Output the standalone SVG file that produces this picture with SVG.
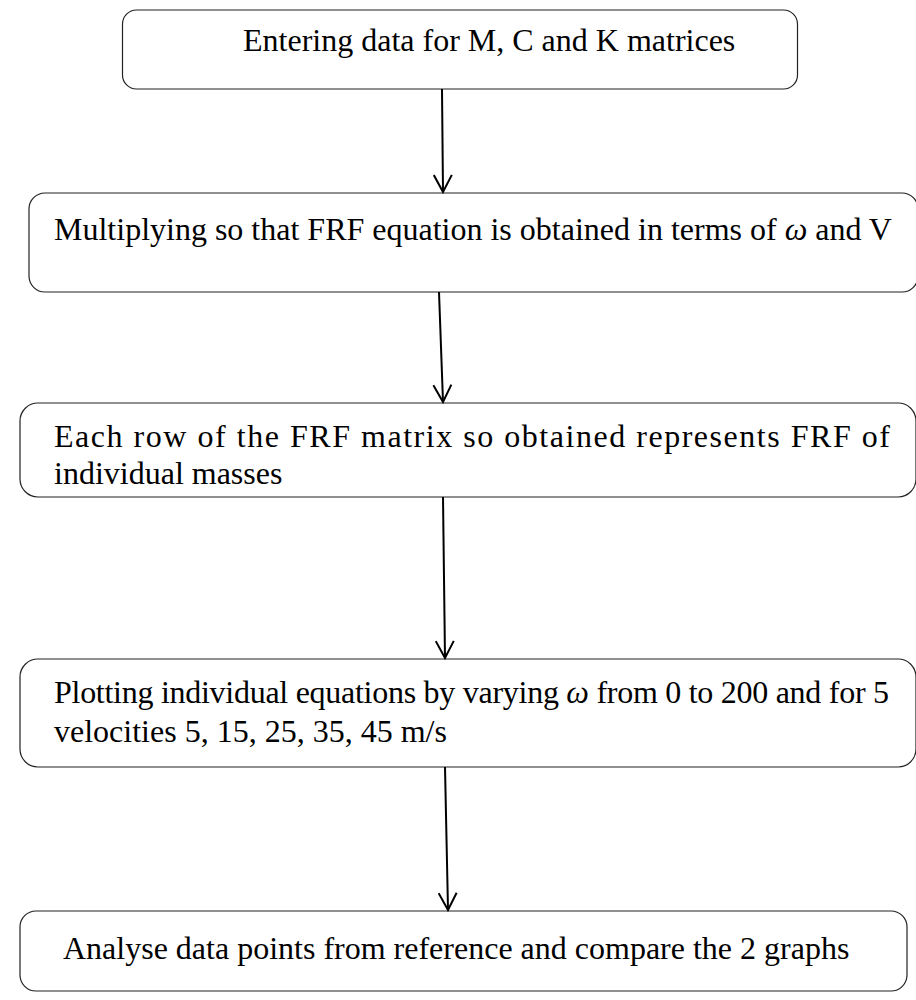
<svg xmlns="http://www.w3.org/2000/svg" width="916" height="1000" viewBox="0 0 916 1000">
<defs>
<style>
.box{fill:#fff;stroke:#222;stroke-width:1.2}
.t{font-family:"Liberation Serif","Times New Roman",serif;font-size:32px;fill:#000}
.w{font-style:italic}
.c{stroke:#000;stroke-width:2;fill:none}
</style>
<marker id="ah" viewBox="0 0 20 20" refX="18" refY="10" markerWidth="20" markerHeight="20" markerUnits="userSpaceOnUse" orient="auto">
<path d="M1,1 L18,10 L1,19" fill="none" stroke="#000" stroke-width="2"/>
</marker>
</defs>
<rect width="916" height="1000" fill="#fff"/>
<g id="n1">
<rect class="box" x="122.5" y="10" width="675" height="79" rx="14"/>
<text class="t" x="243" y="51">Entering data for M, C and K matrices</text>
</g>
<g id="n2">
<rect class="box" x="29" y="193" width="889" height="99" rx="16"/>
<text class="t" x="54" y="240">Multiplying so that FRF equation is obtained in terms of <tspan class="w">ω</tspan> and V</text>
</g>
<g id="n3">
<rect class="box" x="20" y="403" width="896" height="94" rx="18"/>
<text class="t" x="54" y="447" textLength="836" lengthAdjust="spacing">Each row of the FRF matrix so obtained represents FRF of</text>
<text class="t" x="54" y="484">individual masses</text>
</g>
<g id="n4">
<rect class="box" x="20" y="659" width="896" height="108" rx="18"/>
<text class="t" x="54" y="703" textLength="835" lengthAdjust="spacing">Plotting individual equations by varying <tspan class="w">ω</tspan> from 0 to 200 and for 5</text>
<text class="t" x="54" y="742">velocities 5, 15, 25, 35, 45 m/s</text>
</g>
<g id="n5">
<rect class="box" x="20" y="911" width="887" height="80" rx="16"/>
<text class="t" x="63" y="959">Analyse data points from reference and compare the 2 graphs</text>
</g>
<g id="connectors">
<line class="c" x1="442" y1="89" x2="443" y2="192" marker-end="url(#ah)"/>
<line class="c" x1="439" y1="292" x2="443" y2="402" marker-end="url(#ah)"/>
<line class="c" x1="443" y1="497" x2="445" y2="658" marker-end="url(#ah)"/>
<line class="c" x1="445" y1="767" x2="448" y2="910" marker-end="url(#ah)"/>
</g>
</svg>
